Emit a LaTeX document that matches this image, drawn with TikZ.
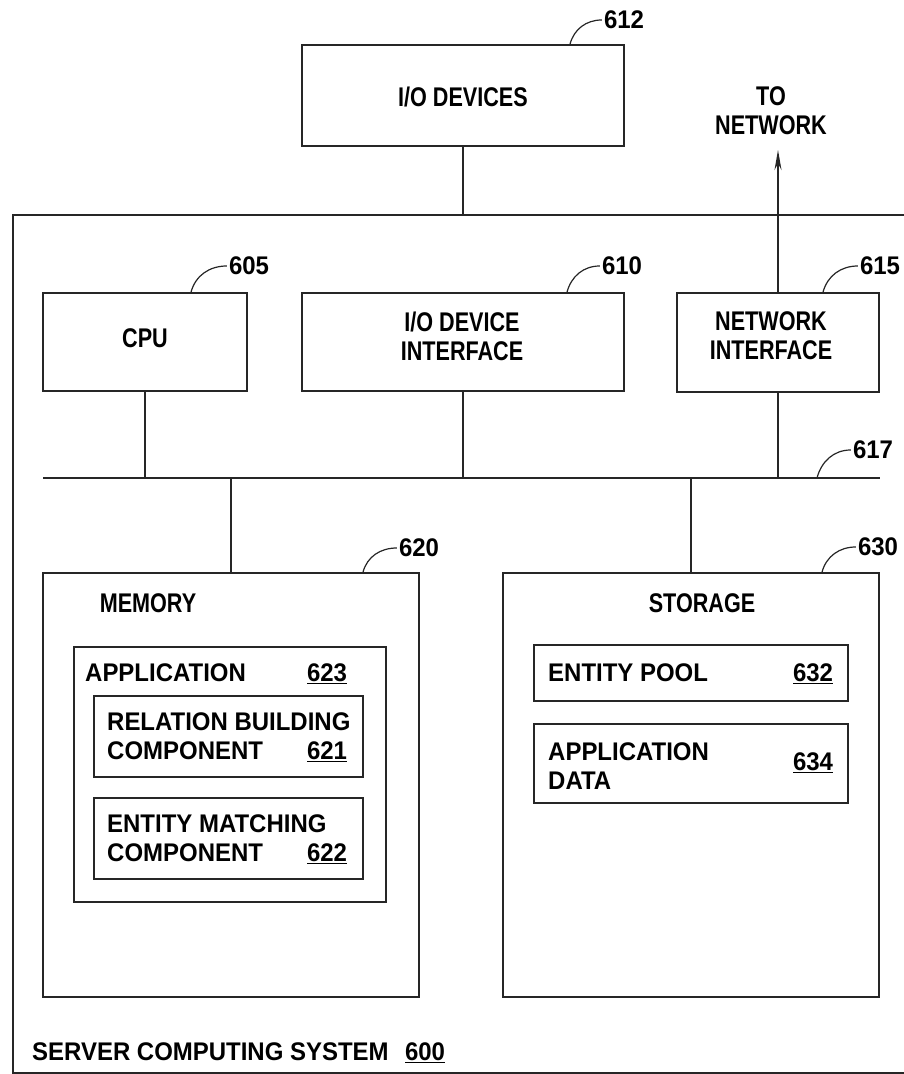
\documentclass[tikz,border=0pt]{standalone}
\usepackage{fontspec}
\setmainfont{Liberation Sans}
\newfontfamily\fontA[FakeStretch=0.80]{Liberation Sans Bold}
\newfontfamily\fontB[FakeStretch=0.94]{Liberation Sans Bold}
\usetikzlibrary{arrows.meta}
\newcommand\fsA{\fontA\fontsize{27}{29}\selectfont}
\newcommand\fsB{\fontB\fontsize{25.5}{29}\selectfont}
\newcommand\unum[1]{\underline{#1}}
\tikzset{
  ln/.style={line width=1.6pt, draw=black!85},
  box/.style={ln, draw, rectangle, inner sep=0pt, align=center, font=\fsA},
  ttop/.style={font=\fsA, inner sep=0pt, align=center},
  lbl/.style={font=\fsB, inner sep=0pt},
  numb/.style={font=\fsB, inner sep=0pt, anchor=base},
  txt/.style={font=\fsB, inner sep=0pt, align=left, anchor=west},
  leader/.style={line width=1.2pt, draw=black!85},
}
\begin{document}
\begin{tikzpicture}[x=1pt,y=1pt]
\useasboundingbox (0,0) rectangle (903,1074);
% outer system box (right edge runs off the page)
\node[box, minimum width=902pt, minimum height=858pt] (outer) at (464,430) {};
% top level boxes
\node[box, minimum width=322pt, minimum height=101pt] (iodev) at (463,978.5) {};
\node[ttop] (tiodev) at (463,977) {I/O DEVICES};
\node[box, minimum width=204pt, minimum height=98pt] (cpu) at (145,732) {};
\node[ttop] (tcpu) at (145,736) {CPU};
\node[box, minimum width=322pt, minimum height=98pt] (iodi) at (463,732) {};
\node[ttop] (tiodi) at (462,738) {I/O DEVICE\\INTERFACE};
\node[box, minimum width=202pt, minimum height=99pt] (neti) at (778,731.5) {};
\node[ttop] (tneti) at (771,738) {NETWORK\\INTERFACE};
\node[ttop] (tonettxt) at (771,963) {TO\\NETWORK};
% bus
\coordinate (busL) at (43,596);
\coordinate (busR) at (880,596);
\draw[ln] (busL) -- (busR);
% memory and storage
\node[box, minimum width=376pt, minimum height=424pt] (mem) at (231,289) {};
\node[box, minimum width=376pt, minimum height=424pt] (stor) at (691,289) {};
\node[ttop] (tmem) at (148,471) {MEMORY};
\node[ttop] (tstor) at (702,471) {STORAGE};
% application
\node[box, minimum width=312pt, minimum height=255pt] (app) at (230,299.5) {};
\node[txt] (tapp) at (85,401) {APPLICATION};
\node[numb] (n623) at (327,392) {\unum{623}};
\node[box, minimum width=269pt, minimum height=81pt] (rel) at (228.5,337.5) {};
\node[txt] (trel) at (107,337.5) {RELATION BUILDING\\COMPONENT};
\node[numb] (n621) at (327,314) {\unum{621}};
\node[box, minimum width=269pt, minimum height=81pt] (ent) at (228.5,235.5) {};
\node[txt] (tent) at (107,236) {ENTITY MATCHING\\COMPONENT};
\node[numb] (n622) at (327,212) {\unum{622}};
% storage contents
\node[box, minimum width=314pt, minimum height=56pt] (pool) at (691,401) {};
\node[txt] (tpool) at (548,401) {ENTITY POOL};
\node[numb] (n632) at (813,392) {\unum{632}};
\node[box, minimum width=314pt, minimum height=79pt] (adata) at (691,310.5) {};
\node[txt] (tadata) at (548,308) {APPLICATION\\DATA};
\node[numb] (n634) at (813,303) {\unum{634}};
% system label
\node[txt] (tsys) at (32,22) {SERVER COMPUTING SYSTEM};
\node[numb] (n600) at (425,13) {\unum{600}};
% connectors
\draw[ln] (iodev.south) -- (iodev.south |- outer.north);
\draw[ln] (cpu.south) -- (cpu.south |- busL);
\draw[ln] (iodi.south) -- (iodi.south |- busL);
\draw[ln] (neti.south) -- (neti.south |- busL);
\draw[ln] (mem.north |- busL) -- (mem.north);
\draw[ln] (stor.north |- busL) -- (stor.north);
\coordinate (tonet) at (778,924);
\draw[ln, -{Stealth[length=20pt,width=7pt]}] (neti.north) -- (tonet);
% reference labels with leaders
\node[lbl] (l612) at (624,1054) {612};
\node[lbl] (l605) at (249,808) {605};
\node[lbl] (l610) at (622,808) {610};
\node[lbl] (l615) at (880,808) {615};
\node[lbl] (l617) at (873,624) {617};
\node[lbl] (l620) at (419,526) {620};
\node[lbl] (l630) at (878,527) {630};
\draw[leader] ([xshift=107pt]iodev.north) to[out=75,in=180] ([xshift=-2pt]l612.west);
\draw[leader] ([xshift=46pt]cpu.north) to[out=75,in=180] ([xshift=-2pt]l605.west);
\draw[leader] ([xshift=104pt]iodi.north) to[out=75,in=180] ([xshift=-2pt]l610.west);
\draw[leader] ([xshift=45pt]neti.north) to[out=75,in=180] ([xshift=-2pt]l615.west);
\draw[leader] ([xshift=-63pt]busR) to[out=75,in=180] ([xshift=-2pt]l617.west);
\draw[leader] ([xshift=132pt]mem.north) to[out=75,in=180] ([xshift=-2pt]l620.west);
\draw[leader] ([xshift=131pt]stor.north) to[out=75,in=180] ([xshift=-2pt]l630.west);
\end{tikzpicture}
\end{document}
